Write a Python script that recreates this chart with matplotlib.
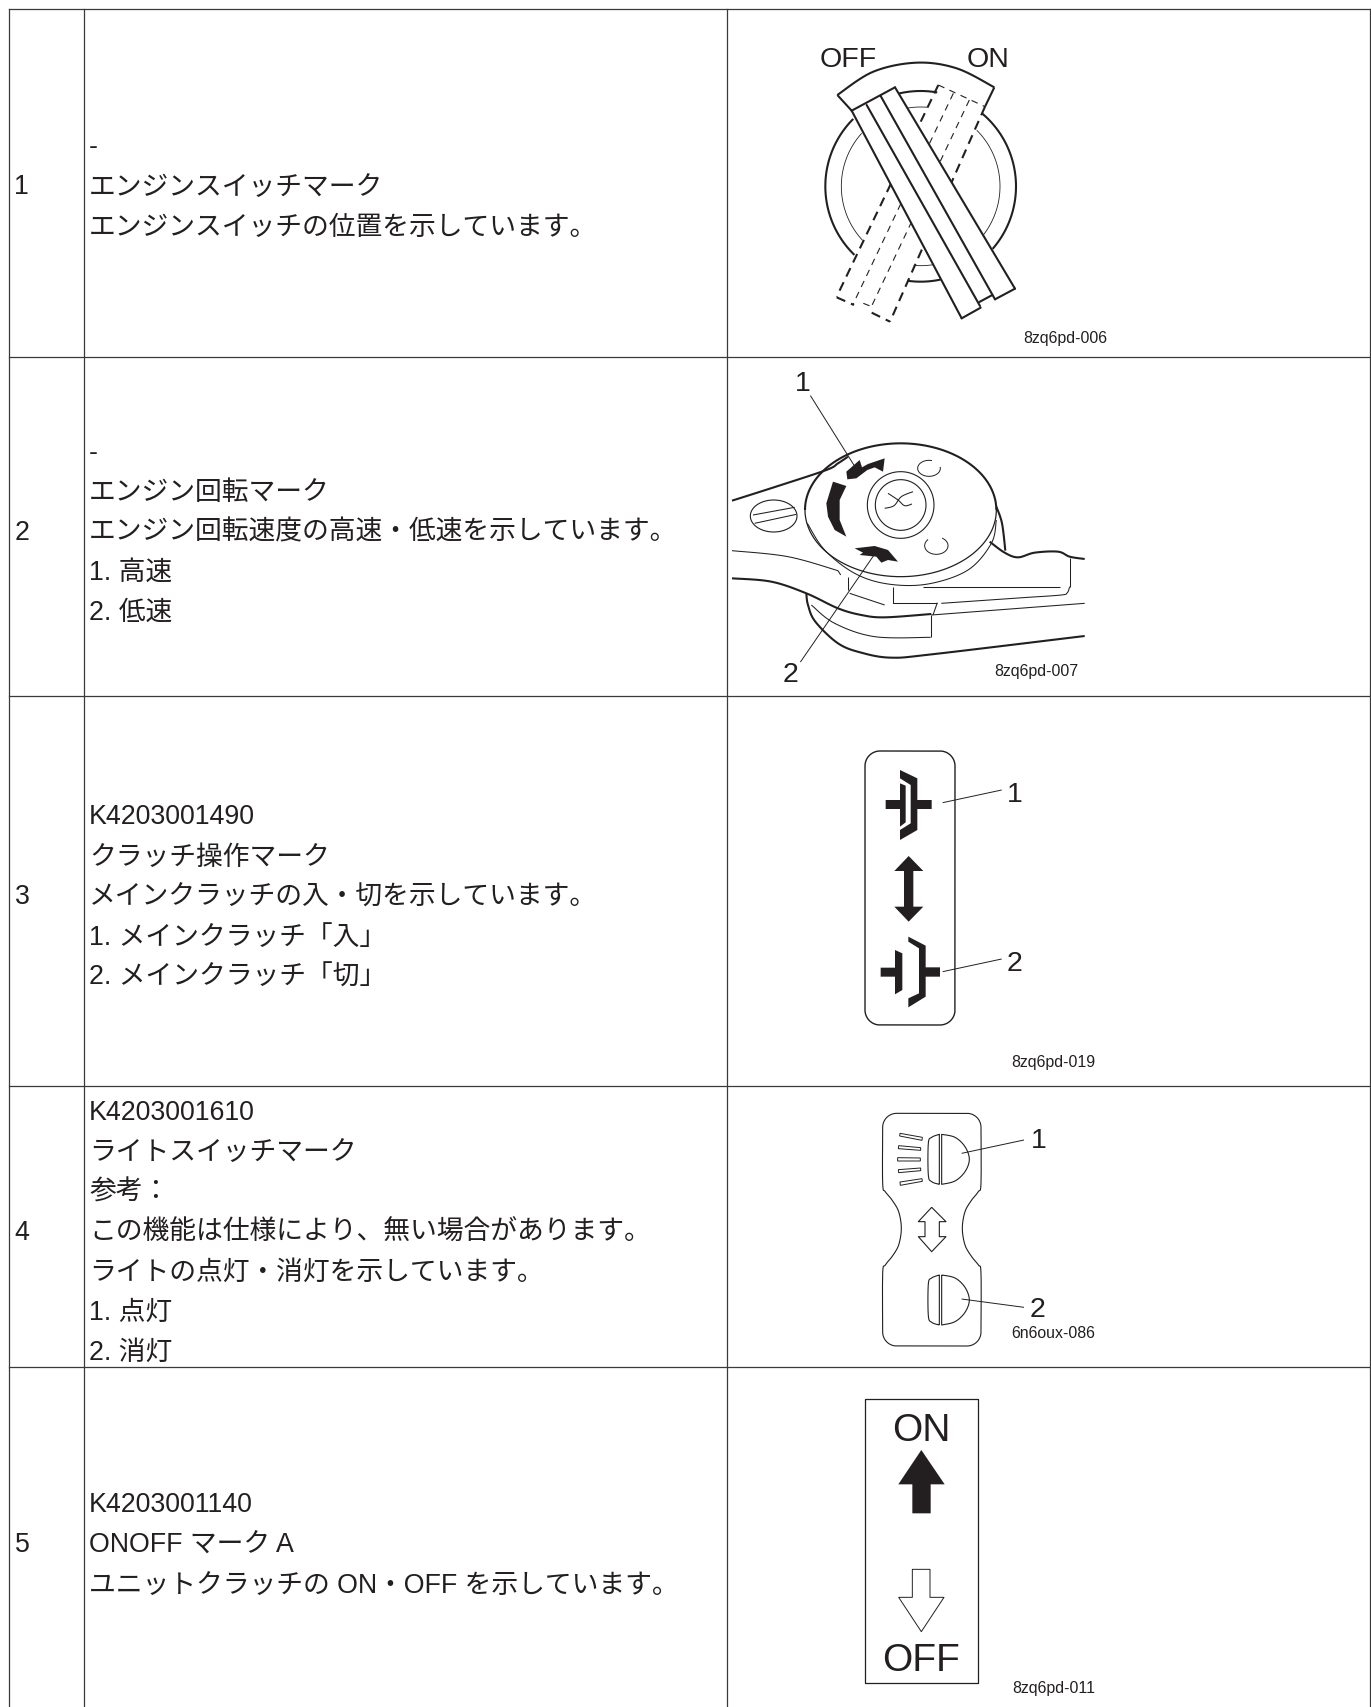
import numpy as np
import matplotlib
matplotlib.use("Agg")
import matplotlib.pyplot as plt

plt.rcParams['font.family'] = ['Liberation Sans', 'Noto Sans CJK JP', 'DejaVu Sans']

INK = '#231f20'

# table
col_x = [8.5, 84, 727, 1369.5]
row_y = [9, 357, 696, 1086, 1367, 1707]
row_labels = ['1', '2', '3', '4', '5']
row_text = [
    ['-', 'エンジンスイッチマーク', 'エンジンスイッチの位置を示しています。'],
    ['-', 'エンジン回転マーク', 'エンジン回転速度の高速・低速を示しています。', '1. 高速', '2. 低速'],
    ['K4203001490', 'クラッチ操作マーク', 'メインクラッチの入・切を示しています。',
     '1. メインクラッチ「入」', '2. メインクラッチ「切」'],
    ['K4203001610', 'ライトスイッチマーク', '参考：', 'この機能は仕様により、無い場合があります。',
     'ライトの点灯・消灯を示しています。', '1. 点灯', '2. 消灯'],
    ['K4203001140', 'ONOFF マーク A', 'ユニットクラッチの ON・OFF を示しています。'],
]
first_line_y = [145, 450, 815, 1110, 1503]
label_y = [185, 530, 894, 1230, 1543]
figure_codes = ['8zq6pd-006', '8zq6pd-007', '8zq6pd-019', '6n6oux-086', '8zq6pd-011']

# outlines below are in crop pixels (3x), see put()
# switch
switch_origin = (730, 10)
lever_lines = [[(365, 302), (695, 925)], [(410, 285), (750, 888)],
               [(452, 258), (795, 868)], [(495, 232), (855, 836)],
               [(695, 925), (752, 893)], [(748, 876), (787, 855)],
               [(795, 868), (855, 836)], [(365, 302), (495, 232)]]
lever_fill = [(365, 302), (495, 232), (855, 836), (795, 868), (787, 855), (752, 876), (752, 893), (695, 925)]
ghost_thick = [[(625, 225), (320, 860)], [(765, 290), (480, 935)],
               [(320, 862), (372, 885)], [(425, 908), (480, 935)]]
ghost_thin = [[(670, 250), (368, 885)], [(718, 270), (425, 888)],
              [(625, 225), (765, 290)], [(400, 880), (425, 890)]]
big_arcs = [(134, 225), (-50, 41), (256, 280), (78, 98)]
small_arcs = [(137, 222), (-45, 42), (247, 275), (77, 95)]
band_ends = [[(322, 255), (365, 302)], [(793, 232), (765, 290)]]

# throttle dial
dial_origin = (728, 360)
dial_thick = [
    [(12, 422), (150, 378), (295, 330), (330, 310), (360, 290)],
    [(12, 655), (130, 665), (235, 700), (330, 745), (400, 765), (470, 772), (610, 762)],
    [(235, 700), (240, 735), (262, 785), (330, 850), (400, 878), (490, 893), (620, 882), (1070, 828)],
    [(785, 545), (830, 578), (870, 592), (920, 578), (990, 575), (1025, 590), (1070, 597)],
    [(805, 440), (822, 490), (832, 572)],
]
dial_thin_curves = [
    [(12, 572), (180, 590), (330, 632)],
    [(250, 735), (320, 790), (440, 830), (608, 832)],
    [(238, 490), (290, 570), (380, 640), (480, 672), (600, 672), (720, 630), (790, 550), (805, 480)],
    [(470, 445), (498, 437), (520, 410), (555, 395)],
    [(480, 400), (510, 420), (530, 437), (552, 432)],
    [(900, 712), (1000, 705), (1018, 698), (1025, 680)],
]
dial_thin_straight = [
    [(330, 632), (338, 645)], [(608, 832), (608, 765)],
    [(610, 765), (1070, 730)], [(628, 728), (615, 765)],
    [(495, 680), (495, 728), (628, 728)],
    [(640, 730), (900, 712)], [(1025, 680), (1025, 595)],
    [(585, 680), (995, 680)], [(360, 650), (360, 690)],
    [(365, 700), (470, 735)],
    [(75, 465), (200, 442)], [(80, 490), (205, 463)],
]
dial_leaders = [[(248, 108), (382, 322)], [(445, 575), (218, 905)]]
dial_blobs = [
    [(315, 365), (355, 378), (335, 420), (335, 480), (355, 530), (320, 510), (300, 470), (295, 430)],
    [(355, 335), (395, 300), (402, 322), (420, 312), (470, 295), (465, 335), (440, 322), (418, 330), (385, 355), (358, 358)],
    [(380, 565), (440, 558), (480, 570), (510, 605), (480, 600), (460, 608), (445, 590), (395, 585), (405, 578)],
]

# clutch mark
clutch_origin = (840, 735)
clutch_box = (75, 48, 345, 870)
clutch_blobs = [
    [(180, 105), (232, 130), (232, 195), (275, 195), (275, 222), (232, 222), (232, 285),
     (180, 315), (180, 285), (212, 265), (212, 150), (180, 130)],
    [(180, 145), (197, 152), (197, 262), (180, 275), (180, 222), (137, 222), (137, 195), (180, 195)],
    [(206, 363), (250, 408), (220, 408), (220, 515), (250, 515), (206, 560), (163, 515), (192, 515), (192, 408), (163, 408)],
    [(122, 698), (165, 698), (165, 645), (187, 655), (187, 765), (165, 778), (165, 725), (122, 725)],
    [(205, 605), (257, 632), (257, 697), (300, 697), (300, 725), (257, 725), (257, 785),
     (205, 817), (205, 790), (237, 775), (237, 640), (205, 620)],
]
clutch_leaders = [[(308, 203), (485, 165)], [(308, 710), (485, 672)]]

# light mark
light_origin = (860, 1100)
light_side = [(363, 85), (363, 250), (355, 275), (335, 300), (315, 335), (307, 385),
              (315, 435), (335, 470), (355, 495), (363, 520), (363, 695)]
light_top_y = 40
light_bottom_y = 738
light_left = 68
light_right = 363
light_bars = [
    [(120, 100), (187, 112), (186, 121), (119, 108)],
    [(116, 137), (182, 143), (182, 151), (115, 146)],
    [(113, 173), (181, 174), (181, 183), (113, 183)],
    [(115, 209), (182, 204), (182, 212), (116, 218)],
    [(120, 246), (186, 236), (187, 244), (121, 256)],
]
lamp_front = [(245, 103), (285, 112), (315, 140), (328, 178), (315, 215), (285, 243), (245, 253)]
lamp_back = [(238, 253), (215, 245), (205, 225), (205, 130), (215, 112), (238, 103)]
lamp_offset = [0, 422]
light_arrow = [(215, 322), (258, 365), (238, 365), (238, 410), (258, 410), (215, 455),
               (175, 410), (195, 410), (195, 365), (175, 365), (215, 322)]
light_leaders = [[(305, 160), (492, 120)], [(305, 597), (492, 622)]]

# on/off mark
onoff_origin = (850, 1385)
onoff_box = [(44, 43), (385, 43), (385, 893), (44, 893), (44, 43)]
on_arrow = [(214, 195), (284, 298), (242, 298), (242, 385), (187, 385), (187, 298), (145, 298)]
off_arrow = [(187, 553), (240, 553), (240, 637), (282, 637), (214, 740), (146, 637), (187, 637), (187, 553)]


def put(pts, origin):
    pts = np.array(pts, dtype=float)
    return origin[0] + pts[:, 0] / 3, origin[1] + pts[:, 1] / 3


def line(ax, pts, origin, lw=1.0, **kw):
    x, y = put(pts, origin)
    ax.plot(x, y, color=INK, lw=lw, solid_capstyle='butt', solid_joinstyle='round', **kw)


def blob(ax, pts, origin, face=INK, edge='none', lw=0.6, zorder=3):
    x, y = put(pts, origin)
    ax.fill(x, y, facecolor=face, edgecolor=edge, lw=lw, zorder=zorder)


def smooth(pts, n=12):
    # catmull-rom through the given points
    p = np.array(pts, dtype=float)
    p = np.vstack([p[0], p, p[-1]])
    out = []
    for i in range(1, len(p) - 2):
        for t in np.linspace(0, 1, n, endpoint=False):
            out.append(0.5 * (2 * p[i] + (p[i + 1] - p[i - 1]) * t
                              + (2 * p[i - 1] - 5 * p[i] + 4 * p[i + 1] - p[i + 2]) * t ** 2
                              + (3 * p[i] - p[i - 1] - 3 * p[i + 1] + p[i + 2]) * t ** 3))
    out.append(p[-1])
    return np.array(out)


def arc(cx, cy, rx, ry, a0, a1):
    t = np.radians(np.linspace(a0, a1, 80))
    return np.column_stack([cx + rx * np.cos(t), cy + ry * np.sin(t)])


def code(ax, s, x, y):
    ax.text(x, y, s, fontsize=11.4, color=INK, ha='left', va='baseline')


def callout(ax, s, x, y, size=20.5):
    ax.text(x, y, s, fontsize=size, color=INK, ha='center', va='baseline')


fig = plt.figure(figsize=(13.71, 17.07), dpi=100)
ax = fig.add_axes([0, 0, 1, 1])
ax.set_xlim(0, 1371)
ax.set_ylim(1707, 0)
ax.axis('off')

# grid
for x in col_x:
    ax.plot([x, x], [row_y[0], row_y[-1]], color='#3a3a3a', lw=0.9)
for y in row_y[:-1]:
    ax.plot([col_x[0], col_x[-1]], [y, y], color='#3a3a3a', lw=0.9)

# cell text
for i, lines in enumerate(row_text):
    ax.text(col_x[0] + 6, label_y[i] + 9.5, row_labels[i], fontsize=19.3, color=INK, va='baseline')
    for k, s in enumerate(lines):
        ax.text(col_x[1] + 5, first_line_y[i] + 40 * k + 9.5, s, fontsize=19.3, color=INK, va='baseline')

# --- row 1, switch
o = switch_origin
for a0, a1 in big_arcs:
    line(ax, arc(572, 529, 286, 286, a0, a1), o, lw=1.5)
for a0, a1 in small_arcs:
    line(ax, arc(572, 529, 238, 238, a0, a1), o, lw=0.6)
for seg in ghost_thick:
    line(ax, seg, o, lw=1.5, ls=(0, (4.5, 3)))
for seg in ghost_thin:
    line(ax, seg, o, lw=0.8, ls=(0, (6, 5)))
line(ax, smooth([(322, 255), (430, 185), (560, 158), (680, 175), (793, 232)]), o, lw=1.5)
for seg in band_ends:
    line(ax, seg, o, lw=1.5)
blob(ax, lever_fill, o, face='white', zorder=2.5)
for seg in lever_lines:
    x, y = put(seg, o)
    ax.plot(x, y, color=INK, lw=1.5, zorder=3, solid_capstyle='round')
callout(ax, 'OFF', 848, 67)
callout(ax, 'ON', 988, 67)
code(ax, figure_codes[0], 1023, 343)

# --- row 2, dial
o = dial_origin
for seg in dial_thick:
    line(ax, smooth(seg), o, lw=1.5)
for seg in dial_thin_curves:
    line(ax, smooth(seg), o, lw=0.75)
for seg in dial_thin_straight:
    line(ax, seg, o, lw=0.75)
for seg in dial_leaders:
    x, y = put(seg, o)
    ax.plot(x, y, color=INK, lw=0.7, zorder=4)
line(ax, arc(518, 450, 287, 200, 180, 360), o, lw=1.5)
line(ax, arc(518, 450, 287, 200, 0, 180), o, lw=0.9)
line(ax, arc(137, 468, 70, 48, 0, 360), o, lw=0.8)
line(ax, arc(518, 435, 100, 100, 0, 360), o, lw=0.8)
line(ax, arc(518, 435, 76, 76, 0, 360), o, lw=0.8)
line(ax, arc(603, 325, 34, 24, -10, 285), o, lw=0.7)
line(ax, arc(625, 557, 35, 26, -60, 225), o, lw=0.7)
for b in dial_blobs:
    blob(ax, b, o)
callout(ax, '1', 728 + 225 / 3, 360 + 92 / 3)
callout(ax, '2', 728 + 187 / 3, 360 + 965 / 3)
code(ax, figure_codes[1], 994, 676)

# --- row 3, clutch
o = clutch_origin
x0, y0, x1, y1 = clutch_box
r = 45
box = np.vstack([arc(x0 + r, y0 + r, r, r, 180, 270), arc(x1 - r, y0 + r, r, r, 270, 360),
                 arc(x1 - r, y1 - r, r, r, 0, 90), arc(x0 + r, y1 - r, r, r, 90, 180),
                 [(x0, y0 + r)]])
line(ax, box, o, lw=1.0)
for b in clutch_blobs:
    blob(ax, b, o)
for seg in clutch_leaders:
    line(ax, seg, o, lw=0.7)
callout(ax, '1', 840 + 524 / 3, 735 + 200 / 3)
callout(ax, '2', 840 + 522 / 3, 735 + 708 / 3)
code(ax, figure_codes[2], 1011, 1067)

# --- row 4, light
o = light_origin
right = smooth(light_side)
left = right.copy()
left[:, 0] = light_left + light_right - left[:, 0]
r = 42
top = arc(light_left + r, light_top_y + r, r, r, 180, 270)
top2 = arc(light_right - r, light_top_y + r, r, r, 270, 360)
bot = arc(light_right - r, light_bottom_y - r, r, r, 0, 90)
bot2 = arc(light_left + r, light_bottom_y - r, r, r, 90, 180)
outline = np.vstack([top, top2, right, bot, bot2, left[::-1], top[:1]])
line(ax, outline, o, lw=0.8)
for b in light_bars:
    blob(ax, b, o, face='white', edge=INK, lw=0.7)
for dy in lamp_offset:
    for shape in (lamp_front, lamp_back):
        pts = smooth(shape, n=8) + np.array([0, dy])
        pts = np.vstack([pts, pts[:1]])
        line(ax, pts, o, lw=0.8)
line(ax, light_arrow, o, lw=0.8)
for seg in light_leaders:
    line(ax, seg, o, lw=0.7)
callout(ax, '1', 860 + 536 / 3, 1100 + 143 / 3)
callout(ax, '2', 860 + 533 / 3, 1100 + 650 / 3)
code(ax, figure_codes[3], 1011, 1338)

# --- row 5, on/off
o = onoff_origin
line(ax, onoff_box, o, lw=0.9)
blob(ax, on_arrow, o)
line(ax, off_arrow, o, lw=0.7)
callout(ax, 'ON', 850 + 213 / 3, 1385 + 168 / 3, size=28)
callout(ax, 'OFF', 850 + 213 / 3, 1385 + 857 / 3, size=28)
code(ax, figure_codes[4], 1012, 1693)

fig.savefig('out.png', dpi=100)
